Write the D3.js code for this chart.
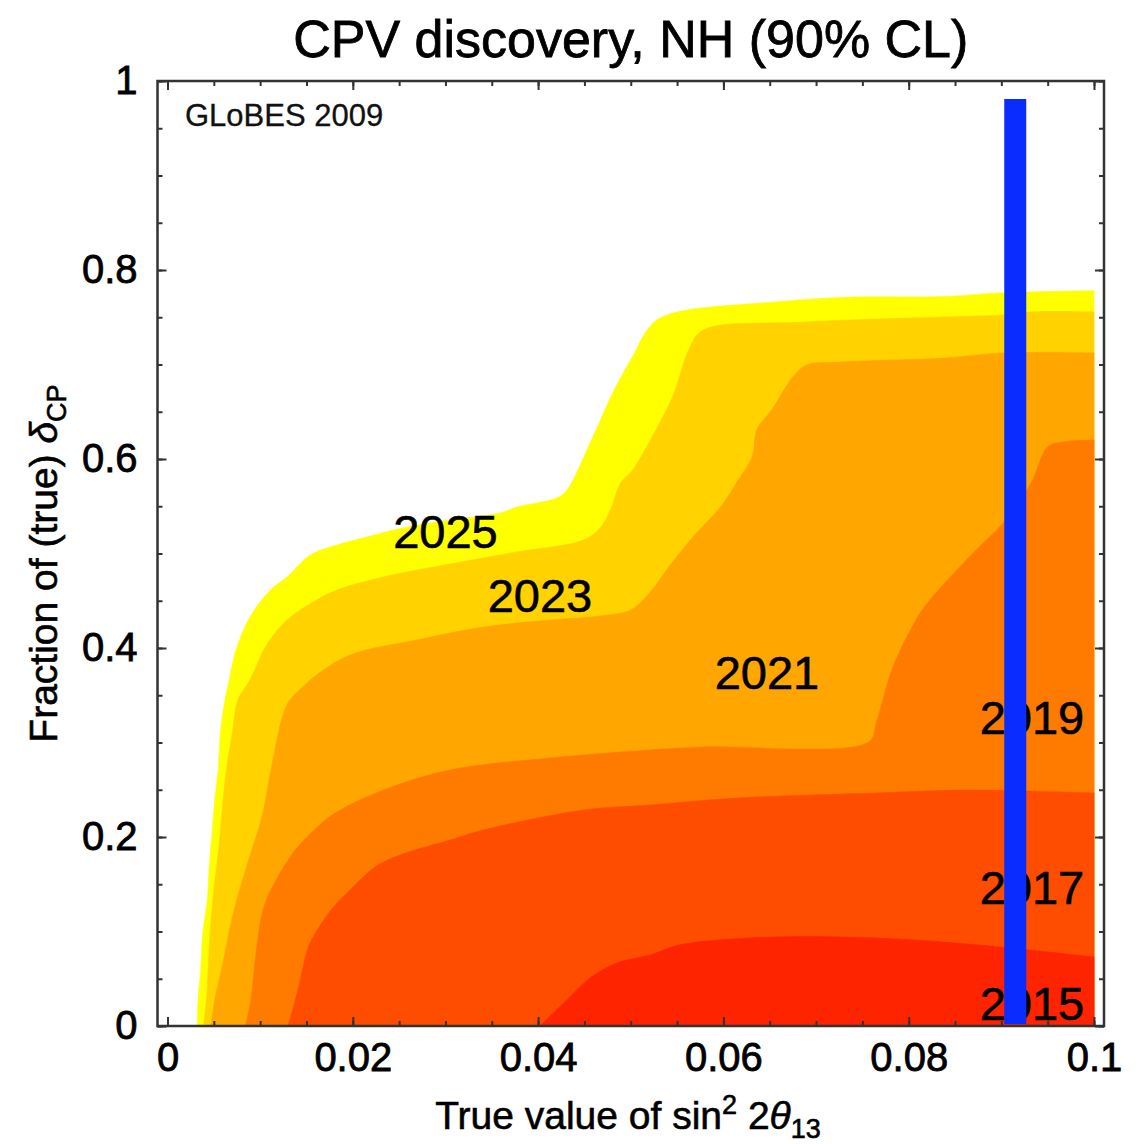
<!DOCTYPE html>
<html>
<head>
<meta charset="utf-8">
<script src="https://cdn.jsdelivr.net/npm/d3@7/dist/d3.min.js"></script>
<style>
  body { margin: 0; background: #fff; }
  svg { display: block; }
</style>
</head>
<body>
<div id="chart"></div>
<script>
// ------------------------------------------------------------
// data: outer edge of each contour region, [sin^2 2theta13, fraction]
// every region is the area below / right of its edge
// ------------------------------------------------------------
const years = [2025, 2023, 2021, 2019, 2017, 2015];

const edge2025 = [[0.0032,0],[0.0033,0.0275],[0.0036,0.0624],[0.0038,0.0984],[0.0043,0.1333],[0.0045,0.1683],
  [0.0048,0.2042],[0.0051,0.2392],[0.0055,0.2741],[0.0057,0.3101],[0.0062,0.345],[0.0066,0.363],[0.0074,0.3979],
  [0.0089,0.4328],[0.0111,0.4614],[0.0129,0.4751],[0.0154,0.4984],[0.0183,0.509],[0.0215,0.5175],[0.0254,0.527],
  [0.0305,0.5354],[0.0359,0.5429],[0.0377,0.5492],[0.042,0.5587],[0.0431,0.5672],[0.0459,0.6233],[0.0482,0.673],
  [0.0504,0.712],[0.0516,0.734],[0.0528,0.747],[0.0552,0.756],[0.0653,0.766],[0.0727,0.771],[0.0839,0.772],
  [0.0902,0.776],[0.1,0.778]];

const edge2023 = [[0.0039,0],[0.0042,0.0275],[0.0044,0.0624],[0.0046,0.0984],[0.0049,0.1333],[0.0053,0.1683],
  [0.0057,0.2042],[0.006,0.2392],[0.0064,0.2741],[0.007,0.3101],[0.0076,0.345],[0.0089,0.3661],[0.0107,0.4032],
  [0.0129,0.4296],[0.0161,0.4508],[0.0183,0.4614],[0.0233,0.4751],[0.0305,0.4889],[0.0377,0.5016],[0.0449,0.5143],
  [0.0467,0.527],[0.0478,0.546],[0.0489,0.5746],[0.0502,0.5884],[0.0523,0.6233],[0.0545,0.6656],[0.0564,0.7185],
  [0.0578,0.7365],[0.069,0.745],[0.0839,0.7503],[0.0902,0.7524],[0.0932,0.7556],[0.1,0.7556]];

const edge2021 = [[0.0047,0],[0.0051,0.0275],[0.0059,0.0624],[0.007,0.1153],[0.008,0.1513],[0.0091,0.1862],
  [0.0102,0.2212],[0.0109,0.2571],[0.0116,0.2921],[0.0124,0.327],[0.0132,0.345],[0.0146,0.3587],[0.0161,0.3714],
  [0.0197,0.3926],[0.0269,0.4085],[0.0341,0.4222],[0.0413,0.4296],[0.0467,0.4339],[0.05,0.4402],[0.0523,0.4614],
  [0.0541,0.4857],[0.0571,0.5217],[0.0597,0.5492],[0.0616,0.5778],[0.0631,0.6021],[0.0636,0.6307],[0.0652,0.6519],
  [0.0675,0.6868],[0.069,0.6995],[0.0727,0.7026],[0.0839,0.7069],[0.0902,0.7122],[0.1,0.7122]];

const edge2019 = [[0.0084,0],[0.009,0.0275],[0.0096,0.0804],[0.0104,0.1259],[0.0119,0.1577],[0.0138,0.1862],
  [0.0162,0.2106],[0.0181,0.2254],[0.0233,0.2497],[0.0305,0.2709],[0.0413,0.2836],[0.0521,0.2921],[0.0578,0.2952],
  [0.0757,0.3005],[0.0765,0.3206],[0.0783,0.3799],[0.0806,0.4265],[0.0817,0.4434],[0.0839,0.4688],[0.0876,0.5069],
  [0.0902,0.5323],[0.0932,0.5746],[0.095,0.6127],[0.0966,0.618],[0.1,0.6201]];

const edge2017 = [[0.013,0],[0.0138,0.0275],[0.0145,0.0561],[0.0152,0.0836],[0.0165,0.1069],[0.0181,0.128],
  [0.0197,0.1439],[0.0224,0.1683],[0.0251,0.181],[0.0305,0.1968],[0.0341,0.2074],[0.0449,0.2286],[0.0521,0.2339],
  [0.0616,0.2413],[0.0765,0.2466],[0.0865,0.2497],[0.1,0.2466]];

const edge2015 = [[0.0402,0],[0.0431,0.0275],[0.0456,0.0508],[0.0485,0.0667],[0.0521,0.0751],[0.0552,0.0857],
  [0.0653,0.0942],[0.0765,0.0931],[0.0876,0.0857],[0.1,0.073]];

const edges = [edge2025, edge2023, edge2021, edge2019, edge2017, edge2015];

// where each year label sits (data units)
const labelX = [0.0300, 0.0402, 0.0647, 0.0933, 0.0933, 0.0933];
const labelY = [0.524, 0.456, 0.375, 0.327, 0.147, 0.024];

// the blue marker
const markerX = 0.0915;
const markerSpan = [0.002, 0.981];

// ticks
const xMajor = [0, 0.02, 0.04, 0.06, 0.08, 0.1];
const xMinor = d3.range(0, 0.1001, 0.005);
const yMajor = [0, 0.2, 0.4, 0.6, 0.8, 1];
const yMinor = d3.range(0, 1.001, 0.05);

// ------------------------------------------------------------
// layout
// ------------------------------------------------------------
const W = 1141, H = 1144;
const frame = { left: 157.5, right: 1104, top: 81, bottom: 1026 };
const colors = ['#ffff00', '#ffd200', '#ffa600', '#ff7b00', '#ff4d00', '#ff2400'];
const font = '"Liberation Sans", Arial, Helvetica, sans-serif';

const x = d3.scaleLinear().domain([0, 0.1]).range([167.5, 1094]);
const y = d3.scaleLinear().domain([0, 1]).range([frame.bottom, frame.top]);

const svg = d3.select('#chart').append('svg')
  .attr('width', W).attr('height', H)
  .style('font-family', font);

svg.append('defs').append('clipPath').attr('id', 'plotClip')
  .append('rect')
  .attr('x', frame.left).attr('y', frame.top)
  .attr('width', frame.right - frame.left).attr('height', frame.bottom - frame.top);

// contour regions, biggest first; edge smoothed, then closed along x = 0.1 and y = 0
const edgeLine = d3.line().x(d => x(d[0])).y(d => y(d[1])).curve(d3.curveCatmullRom.alpha(0.5));
const plot = svg.append('g').attr('clip-path', 'url(#plotClip)');
plot.selectAll('path.region')
  .data(edges)
  .join('path')
  .attr('class', 'region')
  .attr('d', d => edgeLine(d) + `L${x(0.1)},${y(0)}Z`)
  .attr('fill', (d, i) => colors[i])
  .attr('stroke', (d, i) => colors[i])
  .attr('stroke-width', 0.6);

// year labels
plot.selectAll('text.year')
  .data(years)
  .join('text')
  .attr('class', 'year')
  .attr('x', (d, i) => x(labelX[i]))
  .attr('y', (d, i) => y(labelY[i]))
  .attr('dy', '0.36em')
  .attr('text-anchor', 'middle')
  .attr('font-size', 47)
  .attr('fill', '#000')
  .attr('stroke', '#000').attr('stroke-width', 0.6)
  .text(d => d);

// blue marker bar
svg.append('line')
  .attr('x1', x(markerX)).attr('x2', x(markerX))
  .attr('y1', y(markerSpan[0])).attr('y2', y(markerSpan[1]))
  .attr('stroke', '#0a2cff')
  .attr('stroke-width', 22);

// GLoBES tag
svg.append('text')
  .attr('x', 185).attr('y', 126)
  .attr('font-size', 31)
  .attr('fill', '#111')
  .attr('stroke', '#111').attr('stroke-width', 0.3)
  .text('GLoBES 2009');

// ------------------------------------------------------------
// axes: ticks inside on all four sides
// ------------------------------------------------------------
function styleAxis(g) {
  g.select('.domain').remove();
  g.selectAll('line').attr('stroke', '#333').attr('stroke-width', 2);
  g.selectAll('text').attr('font-size', 40).attr('fill', '#000').attr('font-family', font)
    .attr('stroke', '#000').attr('stroke-width', 0.8);
}

svg.append('g').attr('transform', `translate(0,${frame.bottom})`)
  .call(d3.axisBottom(x).tickValues(xMinor).tickSize(-5).tickFormat('')).call(styleAxis);
svg.append('g').attr('transform', `translate(0,${frame.bottom})`)
  .call(d3.axisBottom(x).tickValues(xMajor).tickSize(-9).tickPadding(17).tickFormat(d3.format('~g'))).call(styleAxis);
svg.append('g').attr('transform', `translate(0,${frame.top})`)
  .call(d3.axisTop(x).tickValues(xMinor).tickSize(-5).tickFormat('')).call(styleAxis);
svg.append('g').attr('transform', `translate(0,${frame.top})`)
  .call(d3.axisTop(x).tickValues(xMajor).tickSize(-9).tickFormat('')).call(styleAxis);

svg.append('g').attr('transform', `translate(${frame.left},0)`)
  .call(d3.axisLeft(y).tickValues(yMinor).tickSize(-5).tickFormat('')).call(styleAxis);
svg.append('g').attr('transform', `translate(${frame.left},0)`)
  .call(d3.axisLeft(y).tickValues(yMajor).tickSize(-9).tickPadding(20).tickFormat(d3.format('~g'))).call(styleAxis);
svg.append('g').attr('transform', `translate(${frame.right},0)`)
  .call(d3.axisRight(y).tickValues(yMinor).tickSize(-5).tickFormat('')).call(styleAxis);
svg.append('g').attr('transform', `translate(${frame.right},0)`)
  .call(d3.axisRight(y).tickValues(yMajor).tickSize(-9).tickFormat('')).call(styleAxis);

// frame
svg.append('rect')
  .attr('x', frame.left).attr('y', frame.top)
  .attr('width', frame.right - frame.left).attr('height', frame.bottom - frame.top)
  .attr('fill', 'none').attr('stroke', '#333').attr('stroke-width', 2.5);

// ------------------------------------------------------------
// titles
// ------------------------------------------------------------
svg.append('text')
  .attr('x', (frame.left + frame.right) / 2).attr('y', 57)
  .attr('text-anchor', 'middle')
  .attr('font-size', 52)
  .attr('stroke', '#000').attr('stroke-width', 0.8)
  .text('CPV discovery, NH (90% CL)');

const xl = svg.append('text')
  .attr('x', 628).attr('y', 1129)
  .attr('text-anchor', 'middle')
  .attr('font-size', 39)
  .attr('stroke', '#000').attr('stroke-width', 0.6);
xl.append('tspan').text('True value of sin');
xl.append('tspan').attr('font-size', 27).attr('dy', -15).text('2');
xl.append('tspan').attr('dy', 15).text(' 2');
xl.append('tspan').attr('font-style', 'italic').text('θ');
xl.append('tspan').attr('font-size', 27).attr('dy', 9).text('13');

const yl = svg.append('text')
  .attr('transform', `translate(57,${(frame.top + frame.bottom) / 2 + 10}) rotate(-90)`)
  .attr('text-anchor', 'middle')
  .attr('font-size', 39)
  .attr('stroke', '#000').attr('stroke-width', 0.6);
yl.append('tspan').text('Fraction of (true) ');
yl.append('tspan').attr('font-style', 'italic').text('δ');
yl.append('tspan').attr('font-size', 27).attr('dy', 9).text('CP');
</script>
</body>
</html>
